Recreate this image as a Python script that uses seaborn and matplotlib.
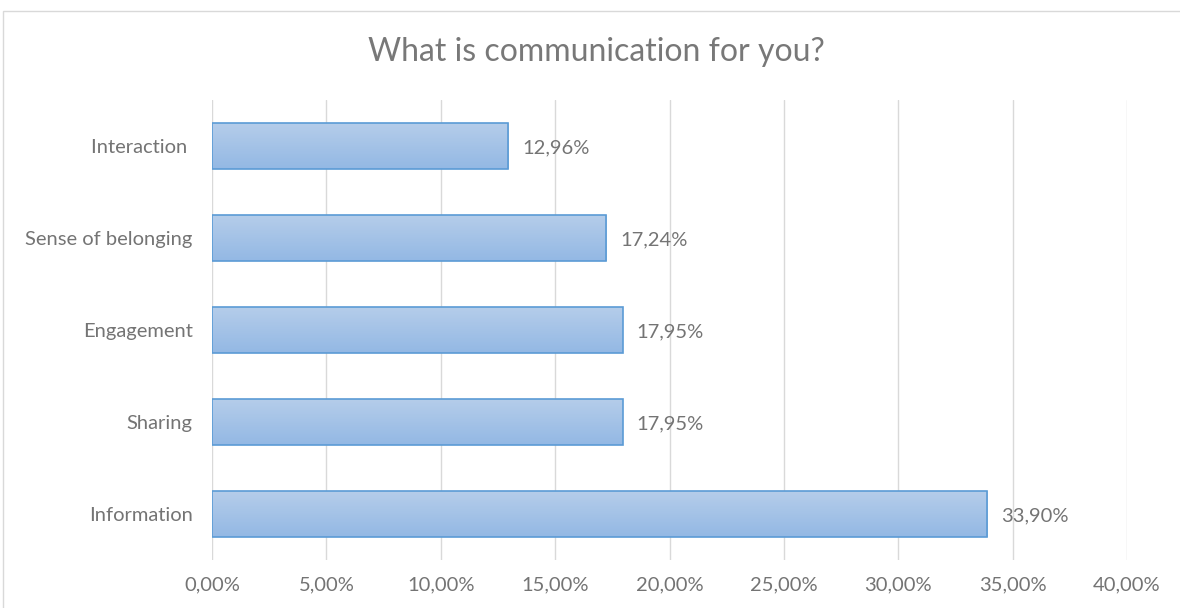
import numpy as np
import pandas as pd
import matplotlib
matplotlib.use("Agg")
import matplotlib.pyplot as plt
from matplotlib.patches import Rectangle
from matplotlib.ticker import FuncFormatter
from matplotlib.colors import LinearSegmentedColormap
import seaborn as sns

categories = ["Interaction ", "Sense of belonging", "Engagement", "Sharing", "Information"]
values = [12.96, 17.24, 17.95, 17.95, 33.90]
x_ticks = [0, 5, 10, 15, 20, 25, 30, 35, 40]

sns.set_theme(style="white")
plt.rcParams['font.family'] = ['Lato', 'DejaVu Sans']

W, H = 1180, 608
fig = plt.figure(figsize=(W / 100, H / 100), dpi=100)
ax = fig.add_axes([212 / W, 1 - 560 / H, (1127 - 212) / W, (560 - 100) / H])

df = pd.DataFrame({"cat": categories, "val": values})
sns.barplot(data=df, x="val", y="cat", orient="h", ax=ax, width=0.5,
            color="#a5c2e6", edgecolor="#5b9bd5", linewidth=1.2, saturation=1)

# gradient fill clipped to each bar
grad = np.linspace(0, 1, 256).reshape(-1, 1)
cmap = LinearSegmentedColormap.from_list("g", ["#b5cdea", "#93b8e4"])
for p in list(ax.patches):
    x0, y0 = p.get_x(), p.get_y()
    w, h = p.get_width(), p.get_height()
    im = ax.imshow(grad, cmap=cmap, aspect="auto",
                   extent=[x0, x0 + w, y0 + h, y0], origin="upper", zorder=2)
    im.set_clip_path(p)
    p.set_zorder(3)
    p.set_facecolor("none")

ax.set_xlim(x_ticks[0], x_ticks[-1])
ax.set_ylim(4.5, -0.5)
ax.set_xticks(x_ticks)
ax.xaxis.set_major_formatter(FuncFormatter(lambda v, pos: f"{v:.2f}%".replace(".", ",")))
ax.grid(axis="x", color="#d9d9d9", linewidth=1)
ax.set_axisbelow(True)
for s in ax.spines.values():
    s.set_visible(False)
ax.tick_params(axis="both", length=0, labelsize=14.5, labelcolor="#747474")
ax.tick_params(axis="x", pad=12)
ax.tick_params(axis="y", pad=14)
ax.set_xlabel("")
ax.set_ylabel("")

for i, v in enumerate(values):
    ax.text(v + 0.6, i + 0.02, f"{v:.2f}%".replace(".", ","), va="center", ha="left",
            fontsize=14.5, color="#747474")

fig.text(596 / W, 1 - 52 / H, "What is communication for you?", ha="center", va="center",
         fontsize=23, color="#787878")

# outer chart border
fig.patches.append(Rectangle((3 / W, -0.01), 1.1, 1 - 11 / H + 0.01, transform=fig.transFigure,
                             fill=False, edgecolor="#d9d9d9", linewidth=1))

fig.savefig("out.png", dpi=100)
